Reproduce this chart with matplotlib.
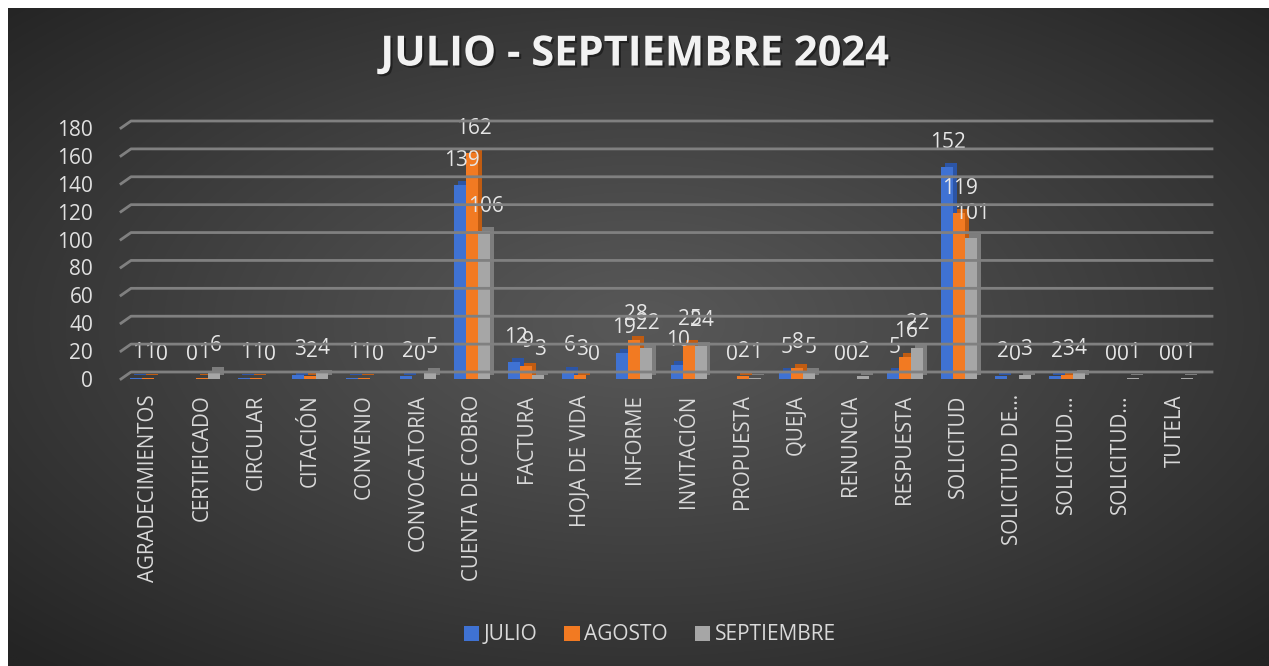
import numpy as np
import matplotlib
matplotlib.use("Agg")
import matplotlib.pyplot as plt
import matplotlib.patheffects as pe
from matplotlib.lines import Line2D
from matplotlib.patches import Patch

plt.rcParams['font.family'] = ['Open Sans', 'DejaVu Sans']

categories = ["AGRADECIMIENTOS", "CERTIFICADO", "CIRCULAR", "CITACIÓN", "CONVENIO",
              "CONVOCATORIA", "CUENTA DE COBRO", "FACTURA", "HOJA DE VIDA", "INFORME",
              "INVITACIÓN", "PROPUESTA", "QUEJA", "RENUNCIA", "RESPUESTA", "SOLICITUD",
              "SOLICITUD DE...", "SOLICITUD...", "SOLICITUD...", "TUTELA"]
julio      = [1, 0, 1, 3, 1, 2, 139, 12, 6, 19, 10, 0, 5, 0, 5, 152, 2, 2, 0, 0]
agosto     = [1, 1, 1, 2, 1, 0, 162, 9, 3, 28, 25, 2, 8, 0, 16, 119, 0, 3, 0, 0]
septiembre = [0, 6, 0, 4, 0, 5, 106, 3, 0, 22, 24, 1, 5, 2, 22, 101, 3, 4, 1, 1]
series_names = ["JULIO", "AGOSTO", "SEPTIEMBRE"]
yticks = [0, 20, 40, 60, 80, 100, 120, 140, 160, 180]
title = "JULIO - SEPTIEMBRE 2024"

colors = ['#3f72d3', '#f27a22', '#a6a6a6']
side_colors = ['#2c55a6', '#c05c12', '#7d7d7d']

W, H = 1269, 666
fig = plt.figure(figsize=(W / 100, H / 100), dpi=100, facecolor='white')

# background with radial gradient
bg = fig.add_axes([8 / W, 0, 1 - 8 / W, 1 - 8 / H], zorder=-10)
yy, xx = np.mgrid[0:1:400j, 0:1:800j]
r = np.sqrt(((xx - 0.5) / 0.5) ** 2 + ((yy - 0.48) / 0.5) ** 2) / np.sqrt(2)
val = (88 - (88 - 36) * np.clip(r, 0, 1) ** 1.1) / 255.0
img = np.dstack([val, val, val])
bg.imshow(img, aspect='auto', extent=[0, 1, 0, 1], interpolation='bilinear')
bg.axis('off')

ax_left, ax_right = 121 / W, 1202 / W
ax_bottom, ax_top = 1 - 379 / H, 1 - 128 / H
ax = fig.add_axes([ax_left, ax_bottom, ax_right - ax_left, ax_top - ax_bottom])
ax.set_facecolor('none')
n = len(categories)
ax.set_xlim(-0.5, n - 0.5)
ax.set_ylim(0, 180)
for s in ax.spines.values():
    s.set_visible(False)

# back-wall gridlines with 3D offset
dx, dy = 10, 7
grid_color = '#808080'
for v in yticks:
    p0 = ax.transData.transform((-0.5, v))
    p1 = ax.transData.transform((n - 0.5, v))
    ln = Line2D([p0[0], p0[0] + dx, p1[0] + dx], [p0[1], p0[1] + dy, p1[1] + dy],
                transform=None, color=grid_color, lw=2.0, zorder=0.5)
    fig.add_artist(ln)

x = np.arange(n)
bw = 0.222
data = [julio, agosto, septiembre]
for k, (vals, c, sc) in enumerate(zip(data, colors, side_colors)):
    pos = x + (k - 1) * bw
    ax.bar(pos, vals, width=bw, color=c, zorder=2 + k, linewidth=0,
           path_effects=[pe.SimplePatchShadow(offset=(2.8, 2.8), shadow_rgbFace=sc, alpha=1.0),
                         pe.Normal()])
    for px, v in zip(pos, vals):
        ax.annotate(str(v), (px + 0.03, v), xytext=(0, 18), textcoords='offset points',
                    ha='center', va='center', fontsize=15, color='#e6e6e6', zorder=10)

ax.set_xticks(x)
ax.set_xticklabels(categories, rotation=90, fontsize=14.8, color='#d9d9d9', va='top')
ax.set_yticks(yticks)
ax.set_yticklabels([str(v) for v in yticks], fontsize=15, color='#e0e0e0')
ax.tick_params(axis='x', length=0, pad=11)
ax.tick_params(axis='y', length=0, pad=20)

fig.text(0.5, 1 - 55 / H, title, ha='center', va='center', fontsize=30,
         fontweight='bold', color='#f2f2f2',
         path_effects=[pe.withSimplePatchShadow(offset=(1.5, -1.5), shadow_rgbFace='#111111', alpha=0.6)])

handles = [Patch(facecolor=c, edgecolor='none') for c in colors]
fig.legend(handles, series_names, loc='center', bbox_to_anchor=(0.512, 1 - 635 / H),
           ncol=3, frameon=False, fontsize=15, handlelength=0.75, handleheight=0.75,
           handletextpad=0.2, columnspacing=1.3, labelcolor='#d9d9d9')

fig.savefig('out.png', dpi=100, facecolor=fig.get_facecolor())
